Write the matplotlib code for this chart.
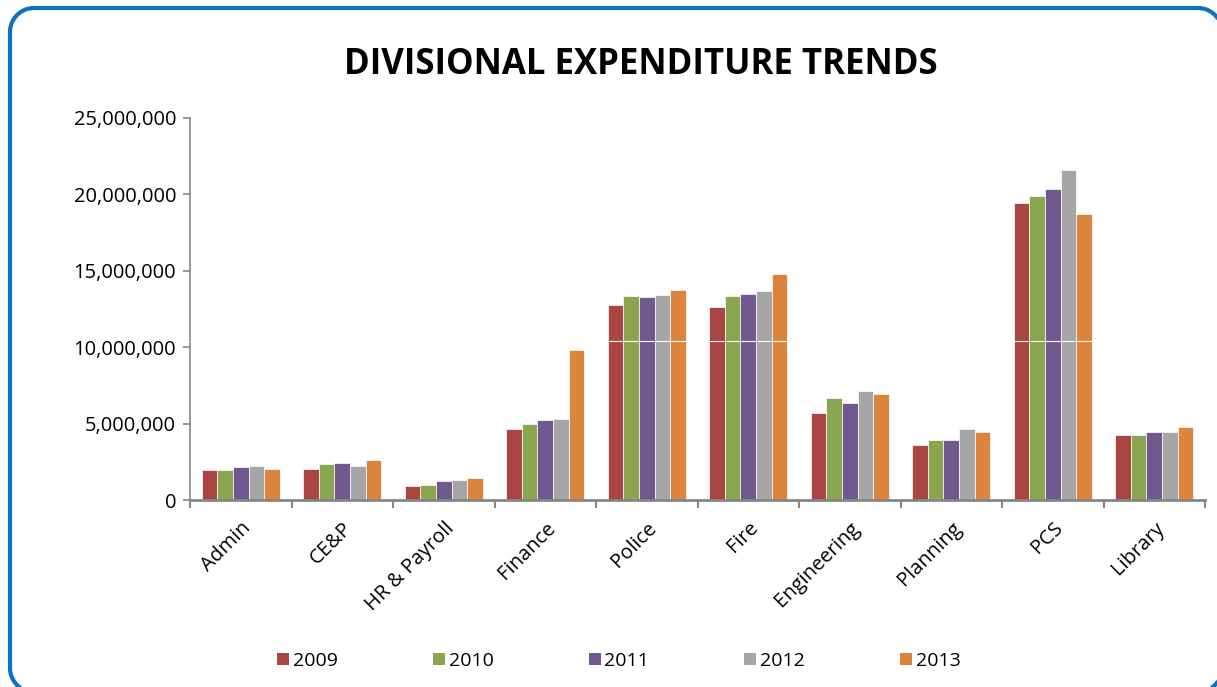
import matplotlib
matplotlib.use("Agg")
import matplotlib.pyplot as plt
import numpy as np
from matplotlib.patches import Patch, PathPatch
from matplotlib.path import Path
from matplotlib.ticker import FuncFormatter, FixedLocator

categories = ["Admin", "CE&P", "HR & Payroll", "Finance", "Police", "Fire",
              "Engineering", "Planning", "PCS", "Library"]
years = ["2009", "2010", "2011", "2012", "2013"]

exp_2009 = [1960000, 2000000, 920000, 4650000, 12760000, 12600000, 5690000, 3570000, 19410000, 4270000]
exp_2010 = [1980000, 2360000, 1000000, 5000000, 13350000, 13370000, 6700000, 3900000, 19900000, 4250000]
exp_2011 = [2180000, 2440000, 1220000, 5260000, 13300000, 13460000, 6320000, 3920000, 20370000, 4470000]
exp_2012 = [2250000, 2200000, 1310000, 5300000, 13440000, 13680000, 7150000, 4650000, 21600000, 4450000]
exp_2013 = [2030000, 2640000, 1440000, 9820000, 13760000, 14790000, 6910000, 4470000, 18720000, 4750000]
series = [exp_2009, exp_2010, exp_2011, exp_2012, exp_2013]

colors = ["#A94543", "#89A54E", "#71588F", "#A6A6A6", "#DB843D"]
yticks = [0, 5000000, 10000000, 15000000, 20000000, 25000000]

plt.rcParams["font.family"] = ["Open Sans", "DejaVu Sans"]

W, H = 1217, 687
fig = plt.figure(figsize=(W / 100, H / 100), dpi=100)


def rounded_rect(x0, y0, x1, y1, r, steps=20):
    """Closed rounded-rectangle outline in pixel units (y pointing down)."""
    pts = []
    corners = [(x1 - r, y0 + r, -90, 0), (x1 - r, y1 - r, 0, 90),
               (x0 + r, y1 - r, 90, 180), (x0 + r, y0 + r, 180, 270)]
    for cx, cy, a0, a1 in corners:
        t = np.radians(np.linspace(a0, a1, steps))
        pts.extend(zip(cx + r * np.cos(t), cy + r * np.sin(t)))
    pts.append(pts[0])
    return Path(np.array(pts))


# overlay in pixel units for the rounded blue frame
frame_ax = fig.add_axes([0, 0, 1, 1], zorder=-1)
frame_ax.set_xlim(0, W)
frame_ax.set_ylim(H, 0)
frame_ax.axis("off")
frame_ax.add_patch(PathPatch(rounded_rect(10, 8, 1222, 692, 24), fill=False,
                             edgecolor="#0E72C4", linewidth=3, clip_on=False))

ax = fig.add_axes([190 / W, 1 - 500 / H, (1205 - 190) / W, (500 - 118) / H])
ax.patch.set_alpha(0)

n = len(categories)
x = np.arange(n)
bw = 0.154
for i, (vals, col) in enumerate(zip(series, colors)):
    offs = (i - 2) * bw
    ax.bar(x + offs, vals, width=bw, color=col, edgecolor="white",
           linewidth=0.5, label=years[i], zorder=2)

ax.axhline(10400000, color="white", linewidth=0.8, zorder=3)

ax.set_xlim(-0.5, n - 0.5)
ax.set_ylim(0, 25000000)

for s in ["top", "right"]:
    ax.spines[s].set_visible(False)
ax.spines["left"].set_color("#868686")
ax.spines["bottom"].set_color("#868686")
ax.spines["left"].set_linewidth(1.2)
ax.spines["bottom"].set_linewidth(2)

ax.set_yticks(yticks)
ax.yaxis.set_major_formatter(FuncFormatter(lambda v, p: f"{int(v):,}"))
ax.tick_params(axis="y", length=5, width=1.2, color="#868686", labelsize=14.5, pad=5)

ax.set_xticks(x)
ax.set_xticklabels(categories, rotation=45, ha="right", rotation_mode="anchor", fontsize=14.5)
ax.tick_params(axis="x", which="major", length=0, pad=13)
ax.xaxis.set_minor_locator(FixedLocator(np.arange(-0.5, n, 1.0)))
ax.tick_params(axis="x", which="minor", length=6, width=1.5, color="#868686")

fig.text(641 / W, 1 - 65 / H, "DIVISIONAL EXPENDITURE TRENDS", ha="center", va="center",
         fontsize=25, fontweight="bold")

handles = [Patch(facecolor=c, edgecolor="none") for c in colors]
fig.legend(handles, years, loc="center", bbox_to_anchor=(619 / W, 1 - 661 / H),
           ncol=5, frameon=False, fontsize=14, handlelength=0.6, handleheight=0.6,
           handletextpad=0.2, columnspacing=4.9)

fig.savefig("out.png", dpi=100)
